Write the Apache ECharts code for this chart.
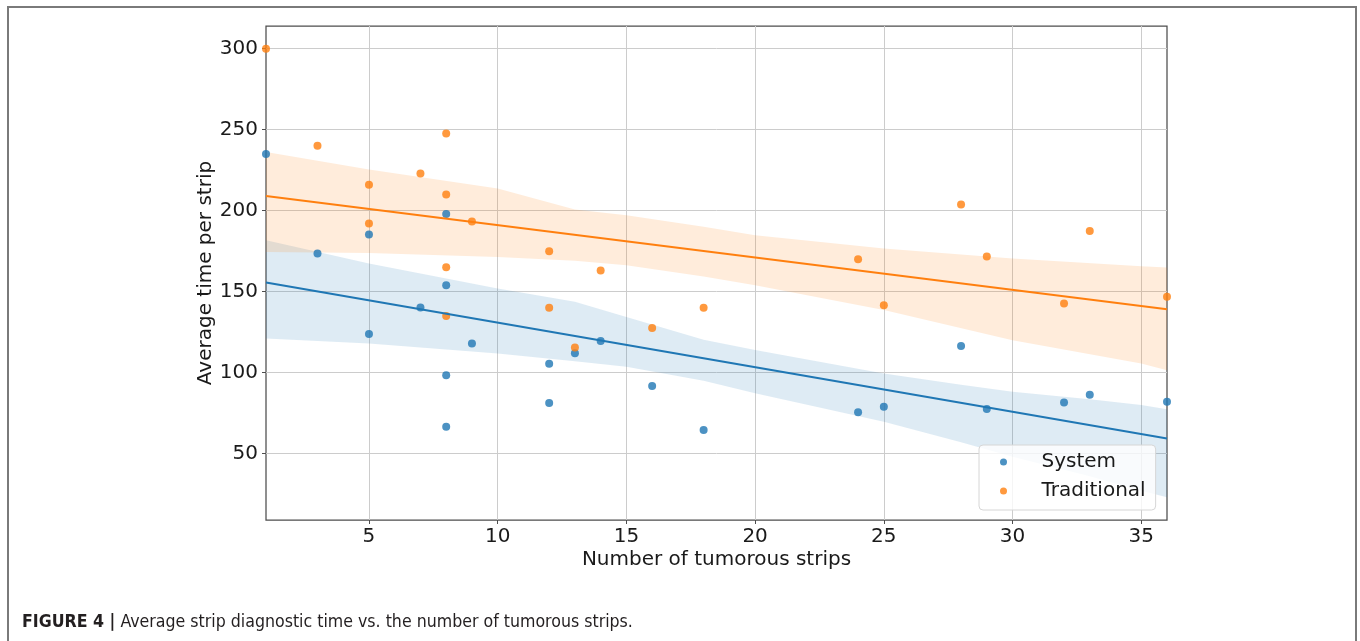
<!DOCTYPE html>
<html>
<head>
<meta charset="utf-8">
<script src="https://cdn.jsdelivr.net/npm/echarts@6/dist/echarts.min.js"></script>
<style>
  html, body { margin: 0; padding: 0; background: #ffffff; }
  #chart { width: 1360px; height: 641px; }
</style>
</head>
<body>
<div id="chart"></div>
<script>
// ---- data ----
const systemX = [1, 3, 5, 5, 7, 8, 8, 8, 8, 9, 12, 12, 13, 14, 16, 18, 24, 25, 28, 29, 32, 33, 36];
const systemY = [235, 173.5, 185.3, 123.8, 140.2, 198, 154, 98.3, 66.6, 118, 105.4, 81.2, 112, 119.5, 91.7, 64.5, 75.6, 78.9, 116.4, 77.5, 81.6, 86.3, 82];

const traditionalX = [1, 3, 5, 5, 7, 8, 8, 8, 8, 9, 12, 12, 13, 14, 16, 18, 24, 25, 28, 29, 32, 33, 36];
const traditionalY = [300, 240, 216, 192, 222.9, 247.6, 210, 165, 134.9, 193.3, 175, 140, 115.5, 163, 127.6, 140, 170, 141.6, 203.8, 171.7, 142.7, 187.5, 146.8];

// regression lines (end points)
const fitX = [1, 36];
const systemFit = [155.6, 59.3];
const traditionalFit = [209.1, 139.1];

// confidence bands
const systemBandX = [1, 5, 10, 13, 15, 18, 20, 25, 28, 30, 33, 35, 36];
const systemUpper = [181.7, 167.4, 152, 143.7, 134.4, 120.3, 113.9, 99.5, 92.5, 88.2, 83.5, 80, 77.4];
const systemLower = [121.1, 118, 111.8, 107, 103.6, 95, 87.2, 69.7, 57, 48, 36, 27, 23];

const tradBandX = [1, 5, 10, 13, 15, 18, 20, 25, 30, 35, 36];
const tradUpper = [236.2, 225.4, 213.6, 200.7, 197.2, 190, 184.8, 176.6, 170.4, 165.7, 164.9];
const tradLower = [174.5, 173.9, 171.4, 169, 166.3, 159.3, 154, 138.6, 120, 105.7, 101.5];

const xTicks = [5, 10, 15, 20, 25, 30, 35];
const yTicks = [50, 100, 150, 200, 250, 300];

const seriesNames = ['System', 'Traditional'];
const captionBold = 'FIGURE 4 |';
const captionText = ' Average strip diagnostic time vs. the number of tumorous strips.';
const xName = 'Number of tumorous strips';
const yName = 'Average time per strip';

// ---- chart ----
const BLUE = '#1f77b4';
const ORANGE = '#ff7f0e';
const FONT = 'DejaVu Sans';
const TEXT = '#1a1a1a';

function pairs(xs, ys) { return xs.map((x, i) => [x, ys[i]]); }

function bandSeries(xs, up, lo, color) {
  return {
    type: 'custom',
    silent: true,
    clip: true,
    data: [[xs[0], up[0]]],
    renderItem: function (params, api) {
      const pts = [];
      for (let i = 0; i < xs.length; i++) pts.push(api.coord([xs[i], up[i]]));
      for (let i = xs.length - 1; i >= 0; i--) pts.push(api.coord([xs[i], lo[i]]));
      return { type: 'polygon', shape: { points: pts }, style: { fill: color, opacity: 0.15, stroke: null } };
    }
  };
}

function scatterSeries(name, xs, ys, color) {
  return {
    name: name, type: 'scatter', data: pairs(xs, ys), symbol: 'circle', symbolSize: 8,
    itemStyle: { color: color, opacity: 0.8 }, clip: true
  };
}

function lineSeries(ys, color) {
  return {
    name: 'fit', type: 'line', data: pairs(fitX, ys), showSymbol: false, silent: true,
    lineStyle: { color: color, width: 2 }, itemStyle: { color: color }
  };
}

const chart = echarts.init(document.getElementById('chart'), null, { renderer: 'canvas' });

const axisCommon = {
  splitLine: { show: true, lineStyle: { color: '#cccccc', width: 1 } },
  axisLine: { show: false },
  axisTick: { show: true, inside: false, length: 4, lineStyle: { color: '#4d4d4d', width: 1 } },
  axisLabel: { color: TEXT, fontFamily: FONT, fontSize: 20 },
  nameTextStyle: { color: TEXT, fontFamily: FONT, fontSize: 20 },
  nameLocation: 'middle',
  nameMoveOverlap: false
};

chart.setOption({
  animation: false,
  backgroundColor: '#ffffff',
  grid: {
    left: 266, top: 26, width: 901, height: 494,
    show: true, borderColor: '#4d4d4d', borderWidth: 1.25, backgroundColor: 'transparent'
  },
  xAxis: Object.assign({}, axisCommon, {
    type: 'value', min: 1, max: 36, name: xName, nameGap: 30,
    axisTick: Object.assign({}, axisCommon.axisTick, { customValues: xTicks }),
    axisLabel: Object.assign({}, axisCommon.axisLabel, { customValues: xTicks, margin: 7 })
  }),
  yAxis: Object.assign({}, axisCommon, {
    type: 'value', min: 9, max: 314, name: yName, nameGap: 50,
    axisTick: Object.assign({}, axisCommon.axisTick, { customValues: yTicks }),
    axisLabel: Object.assign({}, axisCommon.axisLabel, { customValues: yTicks, margin: 8 })
  }),
  legend: {
    orient: 'vertical', left: 979, top: 445,
    data: [{ name: seriesNames[0], icon: 'circle' }, { name: seriesNames[1], icon: 'circle' }],
    itemWidth: 14, itemHeight: 7, itemGap: 7,
    padding: [6, 10, 8, 21],
    backgroundColor: 'rgba(255,255,255,0.8)', borderColor: '#d6d6d6', borderWidth: 1, borderRadius: 4,
    textStyle: { color: TEXT, fontFamily: FONT, fontSize: 20, lineHeight: 22, padding: [0, 0, 0, 26] },
    selectedMode: false
  },
  graphic: [
    {
      type: 'rect', left: 7, top: 6, silent: true,
      shape: { width: 1348, height: 700 },
      style: { fill: 'transparent', stroke: '#7a7a7a', lineWidth: 2 }
    },
    {
      type: 'text', left: 22, top: 613, silent: true,
      style: {
        text: '{b|' + captionBold + '}{n|' + captionText + '}',
        rich: {
          b: { fontFamily: 'Liberation Sans Narrow, DejaVu Sans Condensed, Liberation Sans', fontWeight: 'bold', fontSize: 17.6, fill: '#231f20' },
          n: { fontFamily: 'Liberation Sans Narrow, DejaVu Sans Condensed, Liberation Sans', fontSize: 17.6, fill: '#231f20' }
        }
      }
    }
  ],
  series: [
    scatterSeries(seriesNames[0], systemX, systemY, BLUE),
    lineSeries(systemFit, BLUE),
    bandSeries(systemBandX, systemUpper, systemLower, BLUE),
    scatterSeries(seriesNames[1], traditionalX, traditionalY, ORANGE),
    lineSeries(traditionalFit, ORANGE),
    bandSeries(tradBandX, tradUpper, tradLower, ORANGE)
  ]
});
</script>
</body>
</html>
